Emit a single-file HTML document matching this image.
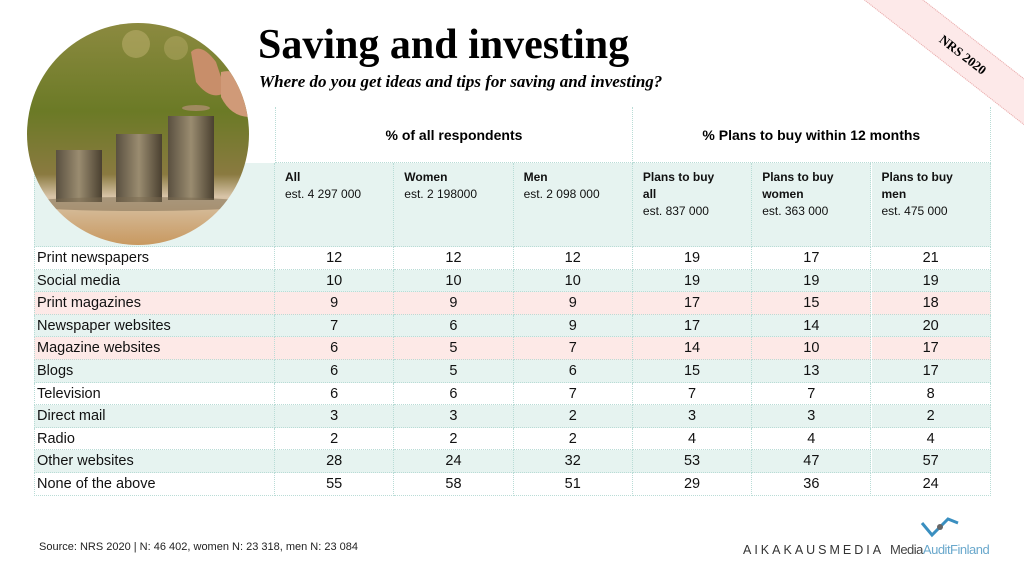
<!DOCTYPE html>
<html><head><meta charset="utf-8">
<style>
body{margin:0;width:1024px;height:576px;overflow:hidden;background:#fff;font-family:"Liberation Sans",sans-serif;position:relative}
.abs{position:absolute}
.cell{position:absolute;box-sizing:border-box;border-right:1px dotted #b9dcd6;border-bottom:1px dotted #b9dcd6}
.num{font-size:14.5px;color:#111;text-align:center;line-height:23px}
.lab{font-size:14.5px;color:#111;line-height:23px;padding-left:2px}
.hd{font-size:12px;color:#111;line-height:17px;padding:6px 10px}
</style></head><body>

<svg class="abs" style="left:26px;top:22px" width="224" height="224" viewBox="0 0 224 224">
<defs>
<clipPath id="c"><circle cx="112" cy="112" r="111"/></clipPath>
<linearGradient id="bg" x1="0" y1="0" x2="0" y2="1">
<stop offset="0" stop-color="#8c8a40"/><stop offset="0.4" stop-color="#6b7a26"/><stop offset="0.68" stop-color="#8a7a40"/><stop offset="0.78" stop-color="#d8c4a8"/><stop offset="1" stop-color="#c8985f"/></linearGradient>
<linearGradient id="coin" x1="0" y1="0" x2="1" y2="0"><stop offset="0" stop-color="#5a5040"/><stop offset="0.5" stop-color="#9a8c70"/><stop offset="1" stop-color="#4a4030"/></linearGradient>
</defs>
<g clip-path="url(#c)">
<rect width="224" height="224" fill="url(#bg)"/>
<circle cx="110" cy="22" r="14" fill="#c8b878" opacity="0.45"/>
<circle cx="150" cy="26" r="12" fill="#c8b878" opacity="0.35"/>
<rect x="30" y="128" width="46" height="52" fill="url(#coin)"/>
<rect x="90" y="112" width="46" height="68" fill="url(#coin)"/>
<rect x="142" y="94" width="46" height="84" fill="url(#coin)"/>
<ellipse cx="112" cy="182" rx="120" ry="7" fill="#7a6a50" opacity="0.5"/>
<path d="M165 30 Q175 20 190 40 L200 70 Q185 80 170 60 Z" fill="#c88e6a"/>
<path d="M195 50 Q215 45 224 70 L224 95 Q205 95 195 75 Z" fill="#d09a78"/>
<ellipse cx="170" cy="86" rx="14" ry="3" fill="#a08a60"/>
</g>
</svg>

<div class="abs" style="left:258px;top:20px;font-family:'Liberation Serif',serif;font-weight:bold;font-size:42px;line-height:50px;">Saving and investing</div>
<div class="abs" style="left:259px;top:72px;font-family:'Liberation Serif',serif;font-weight:bold;font-style:italic;font-size:17px;">Where do you get ideas and tips for saving and investing?</div>

<div id="tbl"></div>

<div class="abs" style="left:856px;top:-53px;width:300px;height:35px;background:#fde9e9;border-top:1px dotted #e7a9a9;border-bottom:1px dotted #e7a9a9;transform:rotate(38deg);transform-origin:0 0;z-index:5"></div>
<div class="abs" style="left:935px;top:47px;font-family:'Liberation Serif',serif;font-weight:bold;font-size:13px;transform:rotate(38deg);z-index:6">NRS 2020</div>

<div class="abs" style="left:39px;top:541px;font-size:11px;color:#222;">Source: NRS 2020 | N: 46 402, women N: 23 318, men N: 23 084</div>
<div class="abs" style="left:743px;top:543px;font-size:12.5px;letter-spacing:3px;color:#333;">AIKAKAUSMEDIA</div>
<svg class="abs" style="left:920px;top:515px" width="40" height="26"><path d="M2 8 L12 20 L28 4 L38 8" fill="none" stroke="#3a8fc0" stroke-width="3"/><circle cx="20" cy="12" r="3" fill="#666"/></svg>
<div class="abs" style="left:890px;top:542px;font-size:13px;letter-spacing:-0.5px;color:#444;">Media<span style="color:#6aa8cc">AuditFinland</span></div>

<script>
const categories=["Print newspapers","Social media","Print magazines","Newspaper websites","Magazine websites","Blogs","Television","Direct mail","Radio","Other websites","None of the above"];
const allResp=[12,10,9,7,6,6,6,3,2,28,55];
const women=[12,10,9,6,5,5,6,3,2,24,58];
const men=[12,10,9,9,7,6,7,2,2,32,51];
const plansAll=[19,19,17,17,14,15,7,3,4,53,29];
const plansWomen=[17,19,15,14,10,13,7,3,4,47,36];
const plansMen=[21,19,18,20,17,17,8,2,4,57,24];
const groupHeaders=["% of all respondents","% Plans to buy within 12 months"];
const colHeaders=[["<b>All</b>","est. 4 297 000"],["<b>Women</b>","est. 2 198000"],["<b>Men</b>","est. 2 098 000"],["<b>Plans to buy</b>","<b>all</b>","est. 837 000"],["<b>Plans to buy</b>","<b>women</b>","est. 363 000"],["<b>Plans to buy</b>","<b>men</b>","est. 475 000"]];
const series=[allResp,women,men,plansAll,plansWomen,plansMen];
const rowColors=["#fff","#e6f3f0","#fde9e7","#e6f3f0","#fde9e7","#e6f3f0","#fff","#e6f3f0","#fff","#e6f3f0","#fff"];

const T=document.getElementById('tbl');
const x0=34,labW=241,colW=119.3,hy=107,h1=56,h2=84,ry=247,rh=22.6;
function mk(cls,l,t,w,h,html,bg){const d=document.createElement('div');d.className=cls;d.style.left=l+'px';d.style.top=t+'px';d.style.width=w+'px';d.style.height=h+'px';if(bg)d.style.background=bg;d.innerHTML=html;T.appendChild(d);return d;}
const tb=mk('abs',x0+labW,hy,colW*6,0,'');tb.style.borderTop='1px dotted #b9dcd6';


groupHeaders.forEach((g,i)=>{const d=mk('cell',x0+labW+i*colW*3,hy,colW*3,h1,'<div style="text-align:center;font-weight:bold;font-size:14px;line-height:'+h1+'px">'+g+'</div>','#fff');
d.style.borderLeft=i==0?'1px dotted #b9dcd6':'';

});
const lh=mk('cell',x0,hy+h1,labW,h2,'','#e6f3f0');lh.style.borderLeft='1px dotted #b9dcd6';lh.style.zIndex=-1;


colHeaders.forEach((c,i)=>{const d=mk('cell',x0+labW+i*colW,hy+h1,colW,h2,'<div class="hd">'+c.join('<br>')+'</div>','#e6f3f0');

});
categories.forEach((cat,r)=>{const y=ry+r*rh;const bg=rowColors[r];
const l=mk('cell lab',x0,y,labW,rh,cat,bg);l.style.borderLeft='1px dotted #b9dcd6';


series.forEach((s,c)=>{const d=mk('cell num',x0+labW+c*colW,y,colW,rh,String(s[r]),bg);

});});
</script>
</body></html>
